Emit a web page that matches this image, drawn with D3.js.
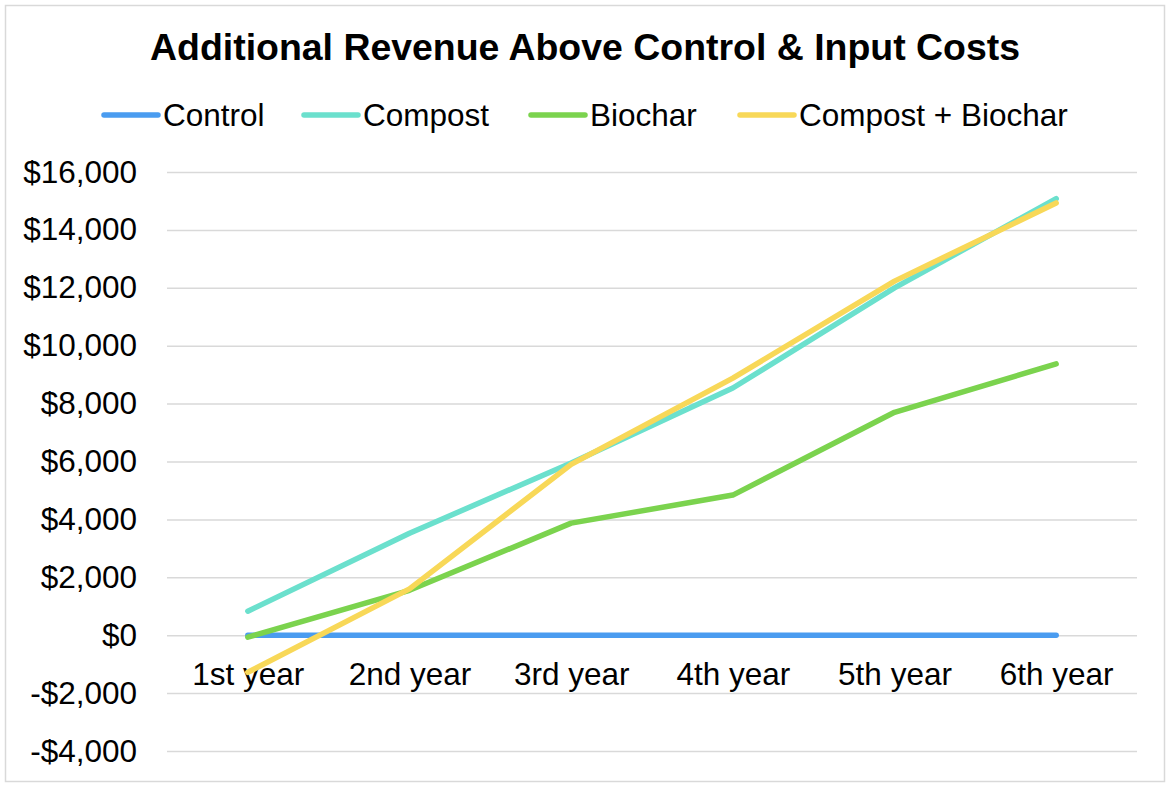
<!DOCTYPE html>
<html><head><meta charset="utf-8">
<script src="https://cdn.jsdelivr.net/npm/d3@7"></script>
<style>body{margin:0;background:#fff;font-family:"Liberation Sans",Arial,sans-serif}</style>
</head><body><svg id="c" width="1170" height="788"></svg>
<script>
const categories = ["1st year","2nd year","3rd year","4th year","5th year","6th year"];
const seriesNames = ["Control","Compost","Biochar","Compost + Biochar"];
const controlValues = [0,0,0,0,0,0];
const compostValues = [830,3520,5950,8540,12000,15080];
const biocharValues = [-70,1550,3870,4840,7700,9370];
const compostBiocharValues = [-1280,1600,5900,8880,12230,14930];
const yTicks = [-4000,-2000,0,2000,4000,6000,8000,10000,12000,14000,16000];
const colors = ["#4a9cf0","#6be0cd","#7bd34e","#f8d858"];
const series = [controlValues, compostValues, biocharValues, compostBiocharValues];

(function(){
const svg = d3.select("#c");
svg.append("rect").attr("x",5.5).attr("y",5.5).attr("width",1159).attr("height",776)
  .attr("fill","#fff").attr("stroke","#d9d9d9").attr("stroke-width",1.5);

const pl=167, pr=1137, pt=172, pb=751;
const x = d3.scalePoint().domain(categories).range([pl,pr]).padding(0.5);
const y = d3.scaleLinear().domain([-4000,16000]).range([pb,pt]);
const fmt = v => (v<0?"-":"") + "$" + d3.format(",")(Math.abs(v));
const ff = "Liberation Sans, Arial, sans-serif";

svg.append("text").attr("x",585).attr("y",60).attr("text-anchor","middle")
  .attr("font-size",36).attr("font-weight","bold").attr("fill","#000")
  .attr("textLength",870).attr("lengthAdjust","spacingAndGlyphs")
  .text("Additional Revenue Above Control & Input Costs");

const yAxis = d3.axisLeft(y).tickValues(yTicks).tickSize(-(pr-pl)).tickFormat(fmt).tickPadding(30);
const ga = svg.append("g").attr("transform",`translate(${pl},0)`).call(yAxis);
ga.select(".domain").remove();
ga.selectAll("line").attr("stroke","#d9d9d9").attr("stroke-width",1.5);
ga.selectAll("text").attr("font-size",31.5).attr("fill","#000").attr("font-family",ff);

const xa = svg.append("g").attr("transform",`translate(0,${y(0)})`).call(d3.axisBottom(x).tickSize(0).tickPadding(27));
xa.select(".domain").remove();
xa.selectAll("text").attr("font-size",31.5).attr("fill","#000").attr("font-family",ff);

const line = d3.line().x((d,i)=>x(categories[i])).y(d=>y(d));
series.forEach((s,i)=>{
  svg.append("path").datum(s).attr("d",line).attr("fill","none")
    .attr("stroke",colors[i]).attr("stroke-width",5.5).attr("stroke-linejoin","round").attr("stroke-linecap","round");
});

const legX = [104,304,531,740];
seriesNames.forEach((n,i)=>{
  svg.append("line").attr("x1",legX[i]).attr("x2",legX[i]+54).attr("y1",115).attr("y2",115)
    .attr("stroke",colors[i]).attr("stroke-width",5.5).attr("stroke-linecap","round");
  svg.append("text").attr("x",legX[i]+59).attr("y",126).attr("font-size",31.5).attr("fill","#000").attr("font-family",ff).text(n);
});
})();
</script></body></html>
